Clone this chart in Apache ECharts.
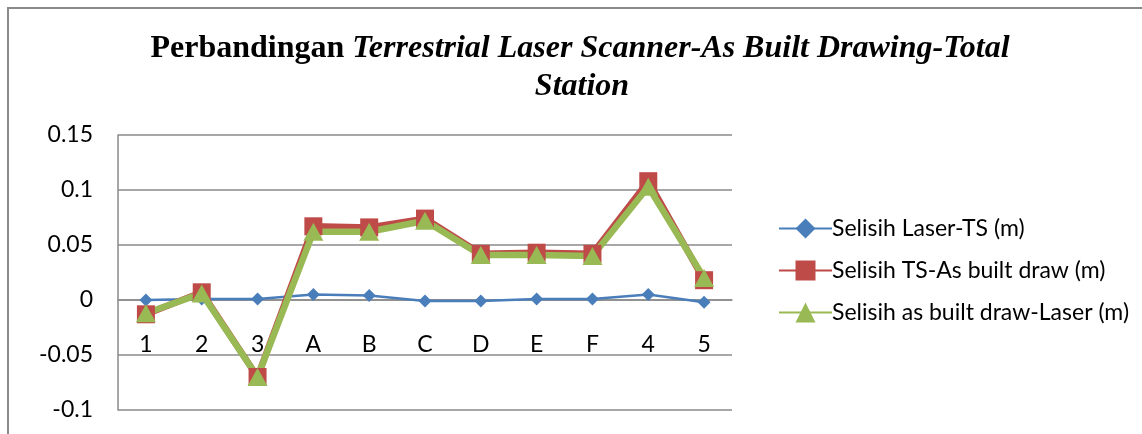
<!DOCTYPE html>
<html>
<head>
<meta charset="utf-8">
<script src="https://cdn.jsdelivr.net/npm/echarts@6/dist/echarts.min.js"></script>
<style>
html,body{margin:0;padding:0;background:#fff;}
#chart{width:1142px;height:434px;}
</style>
</head>
<body>
<div id="chart"></div>
<script>
const categories = ['1','2','3','A','B','C','D','E','F','4','5'];
const seriesNames = ['Selisih Laser-TS (m)','Selisih TS-As built draw (m)','Selisih as built draw-Laser (m)'];
const laserTS = [0.000, 0.001, 0.001, 0.005, 0.004, -0.001, -0.001, 0.001, 0.001, 0.005, -0.002];
const tsAsBuilt = [-0.013, 0.007, -0.070, 0.067, 0.066, 0.074, 0.042, 0.043, 0.042, 0.108, 0.018];
const asBuiltLaser = [-0.012, 0.006, -0.070, 0.062, 0.062, 0.072, 0.041, 0.041, 0.040, 0.103, 0.020];
const yTicks = {min: -0.1, max: 0.15, interval: 0.05};

const labelFont = 'Lato';
const chart = echarts.init(document.getElementById('chart'), null, {renderer: 'canvas'});
chart.setOption({
  animation: false,
  backgroundColor: '#ffffff',
  graphic: [{
    type: 'rect', z: 0, silent: true,
    shape: {x: 8, y: 8, width: 1200, height: 500},
    style: {fill: 'none', stroke: '#8a8a8a', lineWidth: 2}
  }],
  title: [{
    left: 575, top: 28, textAlign: 'center',
    text: '{b|Perbandingan }{bi|Terrestrial Laser Scanner-As Built Drawing-Total}',
    textStyle: {
      rich: {
        b: {fontFamily: 'Liberation Serif', fontWeight: 'bold', fontSize: 32, color: '#000'},
        bi: {fontFamily: 'Liberation Serif', fontWeight: 'bold', fontStyle: 'italic', fontSize: 32, color: '#000'}
      }
    }
  }, {
    left: 577, top: 66, textAlign: 'center',
    text: 'Station',
    textStyle: {fontFamily: 'Liberation Serif', fontWeight: 'bold', fontStyle: 'italic', fontSize: 32, color: '#000'}
  }],
  legend: {
    orient: 'vertical', left: 773, top: 212, itemGap: 19,
    itemWidth: 53, itemHeight: 25,
    textStyle: {fontFamily: labelFont, fontSize: 23, color: '#000', padding: [0,0,0,-5]},
    data: seriesNames
  },
  grid: {left: 118, right: 410, top: 135, bottom: 24, containLabel: false, outerBoundsMode: 'none'},
  xAxis: {
    type: 'category', data: categories, boundaryGap: true,
    position: 'bottom', offset: -110,
    axisLine: {onZero: false, lineStyle: {color: '#8a8a8a', width: 1.5}},
    axisTick: {show: false},
    axisLabel: {fontFamily: labelFont, fontSize: 23, color: '#000', margin: 33},
    splitLine: {show: false}
  },
  yAxis: {
    type: 'value', min: yTicks.min, max: yTicks.max, interval: yTicks.interval,
    axisLine: {show: true, lineStyle: {color: '#8a8a8a', width: 1.5}},
    axisTick: {show: false},
    axisLabel: {fontFamily: labelFont, fontSize: 23, color: '#000', margin: 25,
      formatter: v => String(+v.toFixed(2))},
    splitLine: {show: true, lineStyle: {color: '#8a8a8a', width: 1.5}}
  },
  series: [{
    name: seriesNames[0], type: 'line', data: laserTS,
    symbol: 'diamond', symbolSize: 13,
    itemStyle: {color: '#4A7EBB'}, lineStyle: {color: '#4A7EBB', width: 2.5}
  }, {
    name: seriesNames[1], type: 'line', data: tsAsBuilt,
    symbol: 'rect', symbolSize: 18,
    itemStyle: {color: '#BE4B48'}, lineStyle: {color: '#BE4B48', width: 6.5}
  }, {
    name: seriesNames[2], type: 'line', data: asBuiltLaser,
    symbol: 'triangle', symbolSize: [20, 18],
    itemStyle: {color: '#98B954'}, lineStyle: {color: '#98B954', width: 6.5}
  }]
});
</script>
</body>
</html>
